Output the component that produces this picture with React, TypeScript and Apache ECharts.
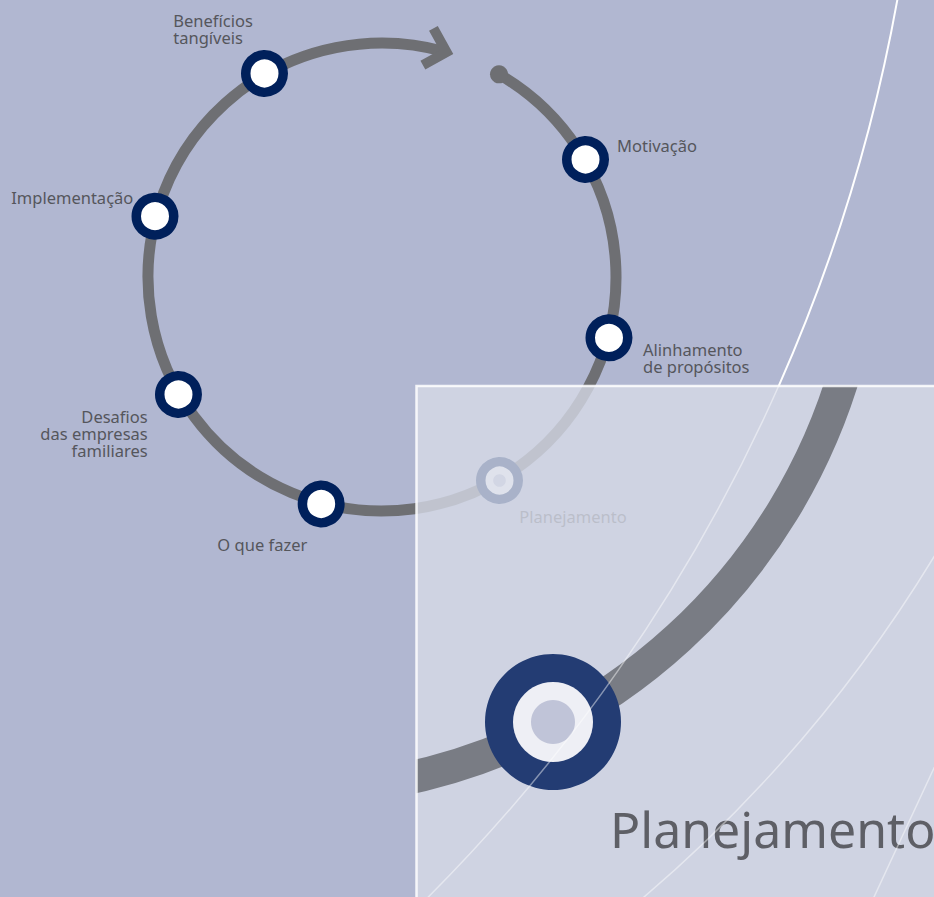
import React, { useEffect, useRef } from 'react';
import * as echarts from 'echarts';

// ---- data ----
const STAGES = [
  'Motivação',
  'Alinhamento\nde propósitos',
  'Planejamento',
  'O que fazer',
  'Desafios\ndas empresas\nfamiliares',
  'Implementação',
  'Benefícios\ntangíveis',
];
// angle on the cycle (degrees, clockwise from 3 o'clock)
const STAGE_ANGLES = [330, 15, 60, 105, 150, 195, 240];
const CURRENT_STAGE = 'Planejamento';
const TITLE = 'Planejamento';

// ---- layout ----
const W = 934;
const H = 897;
const BG = '#b1b7d1';
const FONT = '"Noto Sans", "Open Sans", sans-serif';
const RING = { cx: 382, cy: 277, r: 234, nodeR: 235, start: -60, end: 285.5, arrowAt: -74 };
const LABEL_LAYOUT = [
  { x: 617, y: 145, align: 'left' },
  { x: 643, y: 357.7, align: 'left' },
  { x: 519.3, y: 516.7, align: 'left' },
  { x: 307.3, y: 544.1, align: 'right' },
  { x: 147.7, y: 433.7, align: 'right' },
  { x: 133.3, y: 197.4, align: 'right' },
  { x: 173.3, y: 29.1, align: 'left' },
];
const PANEL = { x: 416.5, y: 386 };
const BIG_ARC = { cx: 282, cy: 205, r: 587, start: 16, end: 79, width: 33 };
const BIG_NODE = { x: 553, y: 722 };

const rad = (d: number) => (d * Math.PI) / 180;

export default function App() {
  const ref = useRef<HTMLDivElement>(null);

  useEffect(() => {
    if (!ref.current) return;
    const chart = echarts.init(ref.current, undefined, { renderer: 'svg' });

    const ringPt = (deg: number, r = RING.r) => [
      RING.cx + r * Math.cos(rad(deg)),
      RING.cy + r * Math.sin(rad(deg)),
    ];
    // arrow head at end of the ring
    const v = ringPt(RING.arrowAt);
    const t = rad(RING.arrowAt);
    const back = [Math.sin(t), -Math.cos(t)]; // opposite of clockwise tangent
    const rot = (p: number[], a: number) => [
      p[0] * Math.cos(a) - p[1] * Math.sin(a),
      p[0] * Math.sin(a) + p[1] * Math.cos(a),
    ];
    const armL = 27;
    const a1 = rot(back, rad(45));
    const a2 = rot(back, rad(-45));
    const arrowPts = [
      [v[0] + a1[0] * armL, v[1] + a1[1] * armL],
      v,
      [v[0] + a2[0] * armL, v[1] + a2[1] * armL],
    ];
    const startDot = ringPt(RING.start);

    const textEl = (i: number): any => ({
      type: 'text',
      z: 1,
      silent: true,
      x: LABEL_LAYOUT[i].x,
      y: LABEL_LAYOUT[i].y,
      style: {
        text: STAGES[i],
        fill: '#55565c',
        fontSize: 16.5,
        fontFamily: FONT,
        lineHeight: 17,
        align: LABEL_LAYOUT[i].align,
        textAlign: LABEL_LAYOUT[i].align,
        verticalAlign: 'middle',
        textVerticalAlign: 'middle',
      },
    });

    const L1 = { cx: -772.6, cy: -302, r: 1697 };
    const L2 = { cx: -278.7, cy: -183, r: 1420.5 };
    const faint = 'rgba(255,255,255,0.45)';

    const elements: any[] = [
      // small cycle ring
      {
        type: 'arc', z: 1, silent: true,
        shape: { cx: RING.cx, cy: RING.cy, r: RING.r, startAngle: rad(RING.start), endAngle: rad(RING.end), clockwise: true },
        style: { stroke: '#6e6f73', lineWidth: 11, fill: null },
      },
      {
        type: 'circle', z: 1, silent: true,
        shape: { cx: startDot[0], cy: startDot[1], r: 9 },
        style: { fill: '#6e6f73' },
      },
      {
        type: 'polyline', z: 1, silent: true,
        shape: { points: arrowPts },
        style: { stroke: '#6e6f73', lineWidth: 10, lineJoin: 'miter', lineCap: 'butt', fill: null },
      },
      // white line, outside panel
      {
        type: 'arc', z: 1, silent: true,
        shape: { cx: L1.cx, cy: L1.cy, r: L1.r, startAngle: rad(9.5), endAngle: rad(23.92), clockwise: true },
        style: { stroke: '#ffffff', lineWidth: 2, fill: null },
      },
      ...STAGES.map((_, i) => textEl(i)),
      // panel overlay
      {
        type: 'rect', z: 50, silent: true,
        shape: { x: PANEL.x, y: PANEL.y, width: W, height: H },
        style: { fill: 'rgba(215,218,231,0.79)' },
      },
      // big arc
      {
        type: 'arc', z: 51, silent: true,
        shape: { cx: BIG_ARC.cx, cy: BIG_ARC.cy, r: BIG_ARC.r, startAngle: rad(BIG_ARC.start), endAngle: rad(BIG_ARC.end), clockwise: true },
        style: { stroke: '#797c84', lineWidth: BIG_ARC.width, fill: null, lineCap: 'butt' },
      },
      // masks outside panel
      {
        type: 'rect', z: 52, silent: true,
        shape: { x: 812, y: 330, width: 90, height: 55.5 },
        style: { fill: BG },
      },
      {
        type: 'rect', z: 52, silent: true,
        shape: { x: 360, y: 740, width: 56, height: 80 },
        style: { fill: BG },
      },
      // panel border
      {
        type: 'rect', z: 53, silent: true,
        shape: { x: PANEL.x, y: PANEL.y, width: W, height: H },
        style: { fill: null, stroke: 'rgba(255,255,255,0.85)', lineWidth: 2.5 },
      },
      // big node
      { type: 'circle', z: 54, silent: true, shape: { cx: BIG_NODE.x, cy: BIG_NODE.y, r: 68 }, style: { fill: '#233c73' } },
      { type: 'circle', z: 55, silent: true, shape: { cx: BIG_NODE.x, cy: BIG_NODE.y, r: 40 }, style: { fill: '#eeeff5' } },
      { type: 'circle', z: 56, silent: true, shape: { cx: BIG_NODE.x, cy: BIG_NODE.y, r: 22 }, style: { fill: '#c0c4d8' } },
      {
        type: 'text', z: 57, silent: true,
        x: 610, y: 828.6,
        style: {
          text: TITLE, fill: '#5e5f66', fontSize: 50, fontFamily: FONT,
          align: 'left', textAlign: 'left', verticalAlign: 'middle', textVerticalAlign: 'middle',
        },
      },
      // faint lines inside panel
      {
        type: 'arc', z: 60, silent: true,
        shape: { cx: L1.cx, cy: L1.cy, r: L1.r, startAngle: rad(23.92), endAngle: rad(46), clockwise: true },
        style: { stroke: faint, lineWidth: 1.5, fill: null },
      },
      {
        type: 'arc', z: 60, silent: true,
        shape: { cx: L2.cx, cy: L2.cy, r: L2.r, startAngle: rad(30.5), endAngle: rad(50), clockwise: true },
        style: { stroke: faint, lineWidth: 1.5, fill: null },
      },
      {
        type: 'line', z: 60, silent: true,
        shape: { x1: 939.6, y1: 756, x2: 870.3, y2: 905 },
        style: { stroke: faint, lineWidth: 1.5 },
      },
    ];

    const currentIdx = STAGES.indexOf(CURRENT_STAGE);

    chart.setOption({
      animation: false,
      backgroundColor: BG,
      polar: { center: [RING.cx, RING.cy], radius: [0, RING.nodeR] },
      angleAxis: { type: 'value', min: 0, max: 360, startAngle: 0, clockwise: true, show: false },
      radiusAxis: { type: 'value', min: 0, max: 1, show: false },
      series: [
        {
          type: 'scatter',
          coordinateSystem: 'polar',
          silent: true,
          z: 2,
          symbol: 'circle',
          symbolSize: 37.5,
          data: STAGE_ANGLES.map((a) => [1, a]),
          itemStyle: { color: '#ffffff', borderColor: '#00205b', borderWidth: 9.5, opacity: 1 },
          emphasis: { disabled: true },
        },
        {
          type: 'scatter',
          coordinateSystem: 'polar',
          silent: true,
          z: 3,
          symbol: 'circle',
          symbolSize: 12.6,
          data: [[1, STAGE_ANGLES[currentIdx]]],
          itemStyle: { color: '#c0c4d8', opacity: 1 },
          emphasis: { disabled: true },
        },
      ],
      graphic: { elements },
    });

    return () => chart.dispose();
  }, []);

  return (
    <div
      ref={ref}
      style={{ position: 'fixed', left: 0, top: 0, width: W, height: H }}
    />
  );
}
